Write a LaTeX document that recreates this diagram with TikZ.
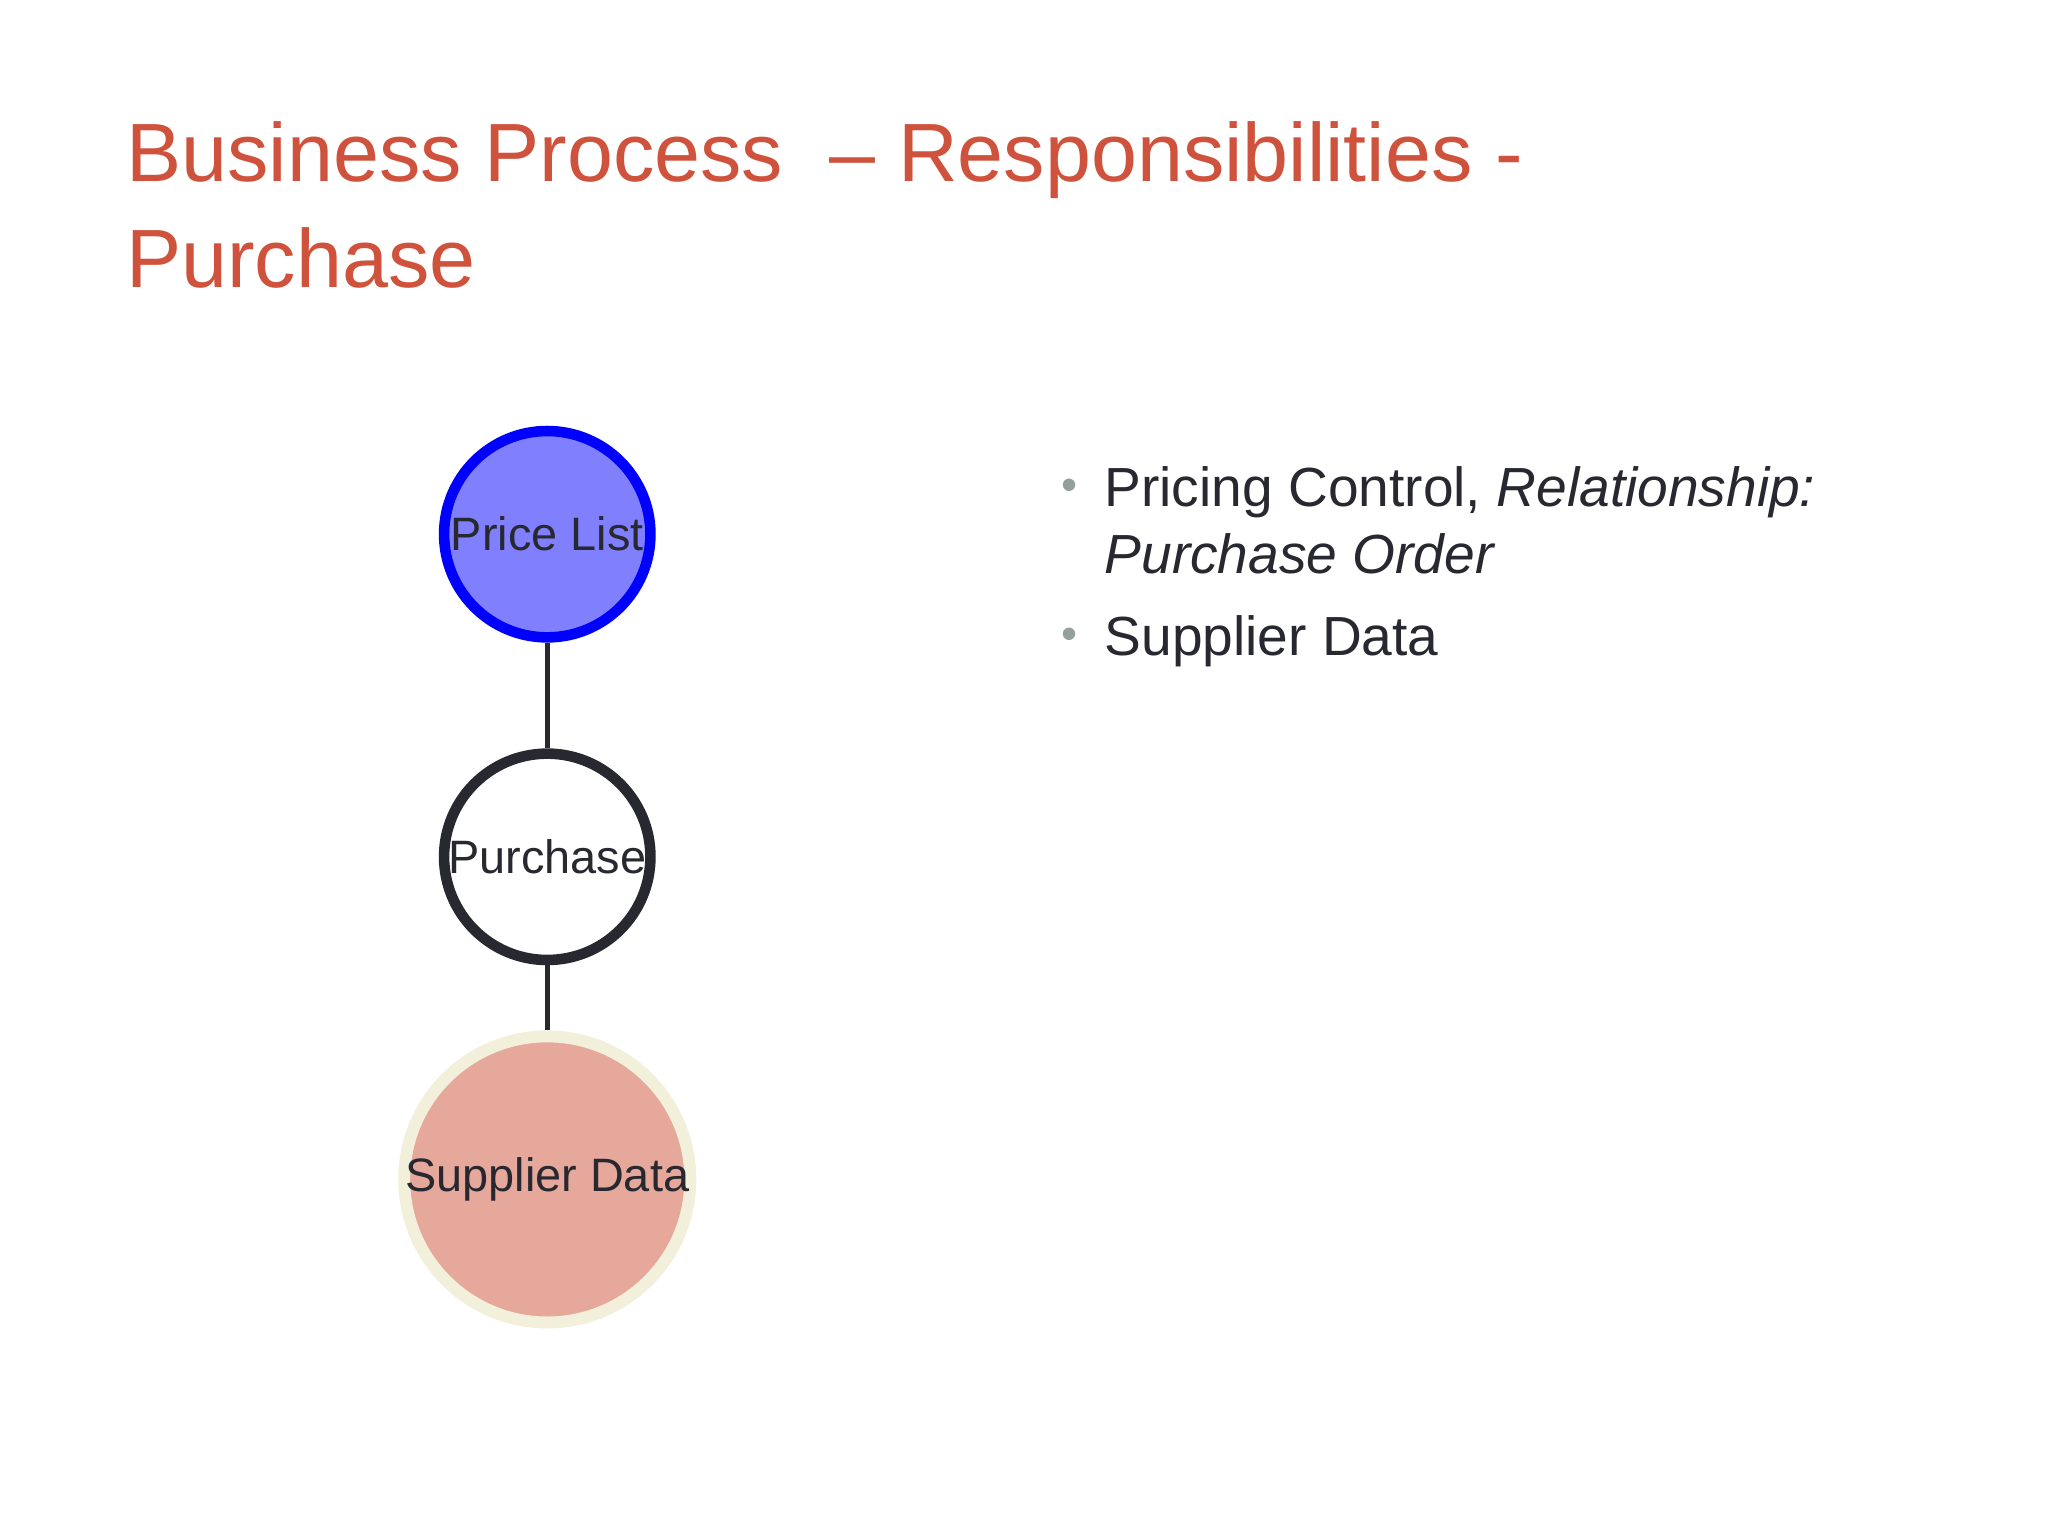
\documentclass[tikz,border=0pt]{standalone}
\usepackage{fontspec}
\setmainfont{Liberation Sans}
\definecolor{titlec}{RGB}{207,82,60}
\definecolor{txt}{RGB}{40,40,48}
\definecolor{bul}{RGB}{150,160,155}
\definecolor{pl}{RGB}{128,128,255}
\definecolor{sd}{RGB}{230,168,155}
\definecolor{sdring}{RGB}{242,240,218}
\begin{document}
\begin{tikzpicture}[x=0.01cm,y=-0.01cm,
  circ/.style={circle,minimum size=158*0.01cm,inner sep=0pt,text=txt,font=\fontsize{10.2}{12}\selectfont},
  bl/.style={anchor=base west,text=txt,font=\fontsize{12}{14}\selectfont}]
\useasboundingbox (0,0) rectangle (1568,1176);
\fill[white] (0,0) rectangle (1568,1176);
\node[anchor=base west,text=titlec,font=\fontsize{18}{22}\selectfont,inner sep=0pt] (t1) at (96,139) {Business Process \ – Responsibilities -};
\node[anchor=base west,text=titlec,font=\fontsize{18}{22}\selectfont,inner sep=0pt] (t2) at (96,220) {Purchase};
\node[circ,draw=blue,line width=2.3pt,fill=pl] (a) at (419,409) {Price List};
\node[circ,draw=txt,line width=2.3pt,fill=white] (b) at (419,656) {Purchase};
\node[circ,draw=sdring,line width=2.6pt,fill=sd,minimum size=162*0.01cm] (c) at (419,903) {Supplier Data};
\draw[txt,line width=1.2pt] (a) -- (b);
\draw[txt,line width=1.2pt] (b) -- (c);
\node[text=bul,font=\fontsize{10}{12}\selectfont] (d1) at (819,375) {•};
\node[bl,inner sep=0pt] (l1) at (845,388) {Pricing Control, \textit{Relationship:}};
\node[bl,inner sep=0pt] (l2) at (845,439) {\textit{Purchase Order}};
\node[text=bul,font=\fontsize{10}{12}\selectfont] (d2) at (819,489) {•};
\node[bl,inner sep=0pt] (l3) at (845,502) {Supplier Data};
\end{tikzpicture}
\end{document}
